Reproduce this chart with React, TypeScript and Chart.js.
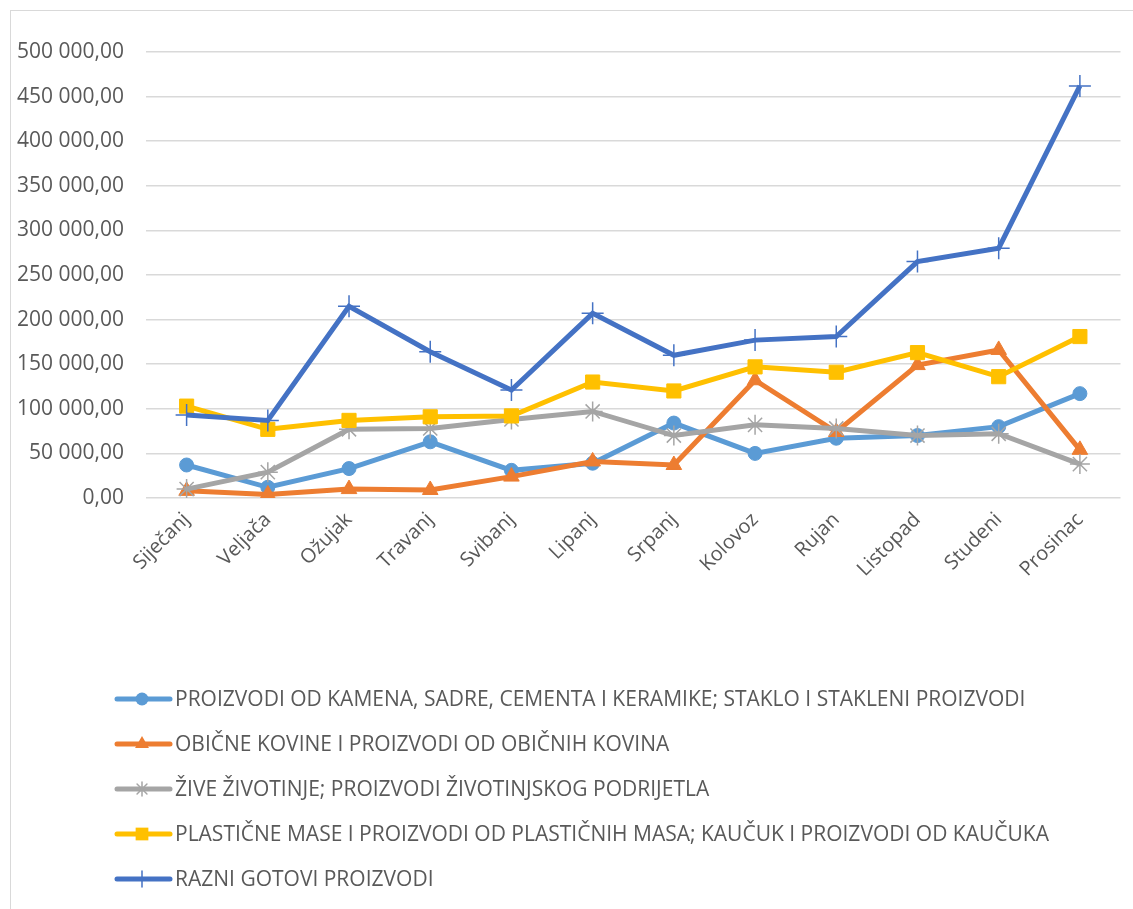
import React, { useEffect, useRef } from "react";
import { Chart, registerables } from "chart.js";

Chart.register(...registerables);

const months = ["Siječanj", "Veljača", "Ožujak", "Travanj", "Svibanj", "Lipanj", "Srpanj", "Kolovoz", "Rujan", "Listopad", "Studeni", "Prosinac"];

const seriesNames = [
  "PROIZVODI OD KAMENA, SADRE, CEMENTA I KERAMIKE; STAKLO I STAKLENI PROIZVODI",
  "OBIČNE KOVINE I PROIZVODI OD OBIČNIH KOVINA",
  "ŽIVE ŽIVOTINJE; PROIZVODI ŽIVOTINJSKOG PODRIJETLA",
  "PLASTIČNE MASE I PROIZVODI OD PLASTIČNIH MASA; KAUČUK I PROIZVODI OD KAUČUKA",
  "RAZNI GOTOVI PROIZVODI",
];

const kamen = [37000, 12000, 33000, 63000, 31000, 39000, 84000, 50000, 67000, 70000, 80000, 117000];
const kovine = [8000, 4000, 10000, 9000, 24000, 41000, 37000, 132000, 74000, 149000, 166000, 54000];
const zivotinje = [10000, 29000, 77000, 78000, 88000, 97000, 70000, 82000, 78000, 70000, 72000, 38000];
const plastika = [103000, 77000, 87000, 91000, 92000, 130000, 120000, 147000, 141000, 163000, 136000, 181000];
const razni = [93000, 87000, 215000, 164000, 121000, 207000, 160000, 177000, 181000, 265000, 280000, 462000];

const yTicks = [0, 50000, 100000, 150000, 200000, 250000, 300000, 350000, 400000, 450000, 500000];

const colors = ["#5B9BD5", "#ED7D31", "#A5A5A5", "#FFC000", "#4472C4"];
const styles = ["circle", "triangle", "star", "rect", "cross"];
const radii = [7, 9, 10, 10, 11];
const pbw = [1, 1, 1.5, 1, 1.5];

const FONT = "'Open Sans', sans-serif";
const TEXT = "#595959";

function fmt(v: number) {
  return Math.round(v).toString().replace(/\B(?=(\d{3})+(?!\d))/g, " ") + ",00";
}

function drawMarker(ctx: CanvasRenderingContext2D, style: string, x: number, y: number, r: number, color: string, bw: number) {
  ctx.save();
  ctx.fillStyle = color;
  ctx.strokeStyle = color;
  ctx.lineWidth = bw;
  ctx.beginPath();
  if (style === "circle") {
    ctx.arc(x, y, r, 0, Math.PI * 2);
    ctx.fill();
  } else if (style === "triangle") {
    const w = r * Math.sqrt(3) / 2;
    ctx.moveTo(x, y - r);
    ctx.lineTo(x + w, y + r / 2);
    ctx.lineTo(x - w, y + r / 2);
    ctx.closePath();
    ctx.fill();
  } else if (style === "rect") {
    const s = r * Math.SQRT1_2;
    ctx.rect(x - s, y - s, 2 * s, 2 * s);
    ctx.fill();
  } else if (style === "star") {
    const d = r * Math.SQRT1_2;
    ctx.moveTo(x - r, y); ctx.lineTo(x + r, y);
    ctx.moveTo(x, y - r); ctx.lineTo(x, y + r);
    ctx.moveTo(x - d, y - d); ctx.lineTo(x + d, y + d);
    ctx.moveTo(x - d, y + d); ctx.lineTo(x + d, y - d);
    ctx.stroke();
  } else if (style === "cross") {
    ctx.moveTo(x - r, y); ctx.lineTo(x + r, y);
    ctx.moveTo(x, y - r); ctx.lineTo(x, y + r);
    ctx.stroke();
  }
  ctx.restore();
}

const legendPlugin = {
  id: "customLegend",
  afterDraw(chart: any) {
    const ctx: CanvasRenderingContext2D = chart.ctx;
    ctx.save();
    seriesNames.forEach((name, i) => {
      const y = 688 + 45 * i;
      ctx.strokeStyle = colors[i];
      ctx.lineWidth = 5;
      ctx.lineCap = "round";
      ctx.beginPath();
      ctx.moveTo(106, y);
      ctx.lineTo(159, y);
      ctx.stroke();
      const r = i === 4 ? 8 : i === 2 ? 7 : i === 3 ? 9 : i === 1 ? 8 : 6.5;
      drawMarker(ctx, styles[i], 131, y, r, colors[i], pbw[i]);
      ctx.fillStyle = TEXT;
      ctx.font = `21px ${FONT}`;
      ctx.textBaseline = "middle";
      ctx.textAlign = "left";
      ctx.fillText(name, 164, y + 1);
    });
    ctx.restore();
  },
};

export default function App() {
  const ref = useRef<HTMLCanvasElement>(null);
  useEffect(() => {
    if (!ref.current) return;
    const all = [kamen, kovine, zivotinje, plastika, razni];
    const chart = new Chart(ref.current, {
      type: "line",
      data: {
        labels: months,
        datasets: all.map((d, i) => ({
          label: seriesNames[i],
          data: d,
          borderColor: colors[i],
          backgroundColor: colors[i],
          borderWidth: 5,
          pointStyle: styles[i] as any,
          pointRadius: radii[i],
          pointBorderWidth: pbw[i],
          pointBorderColor: colors[i],
          pointBackgroundColor: colors[i],
          tension: 0,
          order: 4 - i,
        })),
      },
      options: {
        animation: false,
        responsive: false,
        layout: { padding: { top: 41, left: 0, right: 3, bottom: 301 } },
        plugins: { legend: { display: false }, tooltip: { enabled: false } },
        scales: {
          x: {
            offset: true,
            grid: { display: false },
            border: { display: false },
            ticks: {
              minRotation: 45,
              maxRotation: 45,
              color: TEXT,
              font: { family: FONT, size: 20 },
              padding: 2,
            },
            afterFit: (s: any) => { s.height = 108; },
          },
          y: {
            min: 0,
            max: 500000,
            afterBuildTicks: (s: any) => { s.ticks = yTicks.map((v) => ({ value: v })); },
            grid: { color: "#d9d9d9", lineWidth: 1.5, drawTicks: false },
            border: { display: false },
            ticks: {
              color: TEXT,
              font: { family: FONT, size: 21 },
              padding: 22,
              callback: (v: any) => fmt(Number(v)),
            },
            afterFit: (s: any) => { s.width = 135; },
          },
        },
      },
      plugins: [legendPlugin],
    });
    return () => chart.destroy();
  }, []);
  return (
    <div style={{ position: "absolute", left: 10, top: 10, width: 1140, height: 910, border: "1px solid #d9d9d9", background: "#fff" }}>
      <canvas ref={ref} width={1122} height={896} style={{ display: "block" }} />
    </div>
  );
}
